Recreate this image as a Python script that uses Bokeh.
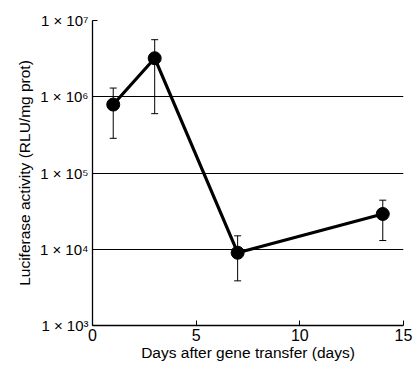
from bokeh.plotting import figure
from bokeh.models import ColumnDataSource, FixedTicker, Whisker, TeeHead, Range1d
from bokeh.embed import file_html
from bokeh.resources import INLINE

# Luciferase expression after gene transfer
days = [1, 3, 7, 14]
activity = [7.9e5, 3.2e6, 9.0e3, 2.9e4]
err_upper = [1.3e6, 5.6e6, 1.5e4, 4.4e4]
err_lower = [2.85e5, 6.0e5, 3.85e3, 1.3e4]

y_ticks = [1e3, 1e4, 1e5, 1e6, 1e7]
y_tick_labels = ["1 × 10³", "1 × 10⁴", "1 × 10⁵", "1 × 10⁶", "1 × 10⁷"]
x_ticks = [0, 5, 10, 15]

FONT = "Liberation Sans"

src = ColumnDataSource(dict(x=days, y=activity, upper=err_upper, lower=err_lower))

p = figure(width=414, height=365, y_axis_type="log",
           x_range=Range1d(0, 15), y_range=Range1d(1e3, 1e7),
           output_backend="svg", toolbar_location=None,
           min_border_left=92, min_border_right=11,
           min_border_top=20, min_border_bottom=40)
p.outline_line_color = None
p.background_fill_color = "white"
p.border_fill_color = "white"

# grid: only the interior decades
p.xgrid.grid_line_color = None
p.ygrid.ticker = FixedTicker(ticks=[1e4, 1e5, 1e6])
p.ygrid.grid_line_color = "black"
p.ygrid.grid_line_width = 1

# axes
p.yaxis.ticker = FixedTicker(ticks=y_ticks)
p.yaxis.major_label_overrides = {t: lab for t, lab in zip(y_ticks, y_tick_labels)}
p.xaxis.ticker = FixedTicker(ticks=x_ticks)
for ax in (p.xaxis, p.yaxis):
    ax.axis_line_color = "black"
    ax.axis_line_width = 1.3
    ax.major_tick_in = 5
    ax.major_tick_out = 0
    ax.minor_tick_line_color = None
    ax.major_tick_line_color = "black"
    ax.major_label_text_font = FONT
    ax.major_label_text_color = "black"
    ax.axis_label_text_font = FONT
    ax.axis_label_text_font_style = "normal"
    ax.axis_label_text_color = "black"
    ax.axis_label_text_font_size = "15.5px"

p.yaxis.major_label_text_font_size = "15px"
p.yaxis.major_label_standoff = 4
p.xaxis.major_label_text_font_size = "16px"
p.xaxis.major_label_standoff = 3
p.yaxis.axis_label = "Luciferase activity (RLU/mg prot)"
p.xaxis.axis_label = "Days after gene transfer (days)"
p.yaxis.axis_label_standoff = 4
p.xaxis.axis_label_standoff = 0

# error bars
w = Whisker(source=src, base="x", upper="upper", lower="lower",
            line_color="black", line_width=1,
            upper_head=TeeHead(size=7, line_color="black", line_width=1),
            lower_head=TeeHead(size=7, line_color="black", line_width=1))
p.add_layout(w)

# series
p.line("x", "y", source=src, line_color="black", line_width=3.2)
p.scatter("x", "y", source=src, size=13, fill_color="black", line_color="black")

open("out.html", "w").write(file_html(p, INLINE))
